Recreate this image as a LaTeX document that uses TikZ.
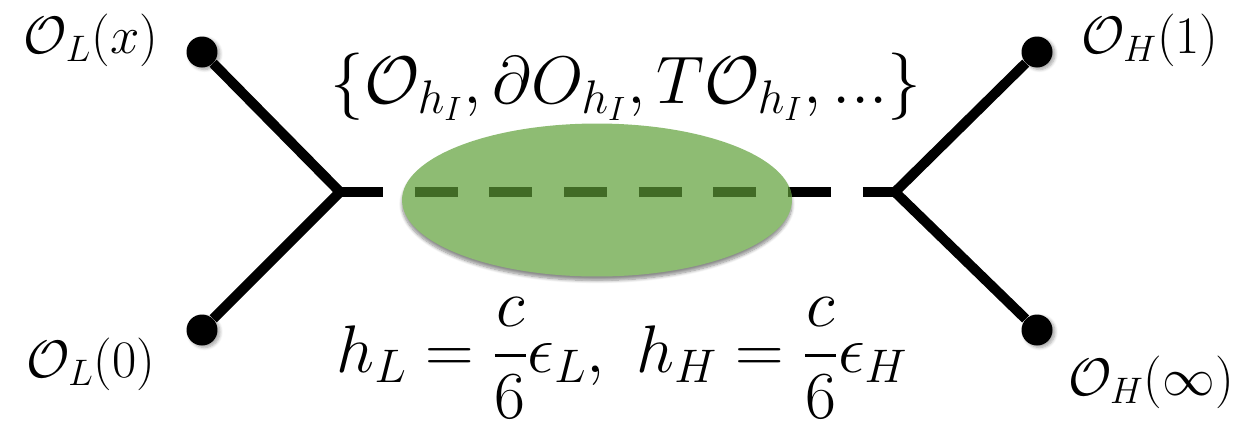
\RequirePackage{fix-cm}
\documentclass[tikz,border=0pt]{standalone}
\usepackage{amsmath,amssymb}
\usepackage{xcolor}
\usepackage{tikz}
\usetikzlibrary{shapes.geometric,shadows.blur,positioning}
\definecolor{blobgreen}{RGB}{142,188,115}
\definecolor{dashgreen}{RGB}{65,107,38}

\begin{document}
\begin{tikzpicture}[
    x=0.02cm, y=-0.02cm,
    leg/.style={line width=0.2cm},
    prop/.style={line width=0.2cm, dash pattern=on 0.86cm off 0.634cm},
    endpt/.style={circle, fill=black, minimum size=0.62cm, inner sep=0pt,
        blur shadow={shadow xshift=0.05cm, shadow yshift=-0.04cm, shadow blur steps=6, shadow opacity=35}},
    blob/.style={ellipse, fill=blobgreen, minimum width=7.8cm, minimum height=3.06cm, inner sep=0pt,
        blur shadow={shadow xshift=0cm, shadow yshift=-0.08cm, shadow blur steps=8, shadow opacity=45}},
    oplabel/.style={font=\fontsize{30}{32}\selectfont, inner sep=0pt},
    biglabel/.style={font=\fontsize{38.3}{42}\selectfont, inner sep=0pt}
]
    \useasboundingbox (0,0) rectangle (1254,437);

    % the two vertices
    \coordinate (vl) at (340,192);
    \coordinate (vr) at (895,192);

    % external operators
    \node[endpt] (oLx) at (202,52) {};
    \node[endpt] (oL0) at (202,330) {};
    \node[endpt] (oH1) at (1037,52) {};
    \node[endpt] (oHi) at (1037,330) {};

    \draw[leg] (oLx) -- (vl) -- (oL0);
    \draw[leg] (oH1) -- (vr) -- (oHi);

    % exchanged channel
    \draw[prop] (vl) -- (vr);
    \node[blob] (blob) at (597,200) {};
    \begin{scope}
        \clip (blob.center) ellipse [x radius=3.9cm, y radius=1.53cm];
        \draw[prop, dashgreen] (vl) -- (vr);
    \end{scope}

    % labels
    \node[oplabel] (lLx) at (91,40) {$\mathcal{O}_L(x)$};
    \node[oplabel] (lL0) at (91,364) {$\mathcal{O}_L(0)$};
    \node[oplabel] (lH1) at (1150,40) {$\mathcal{O}_H(1)$};
    \node[oplabel] (lHi) at (1151,382) {$\mathcal{O}_H(\infty)$};

    \node[biglabel] (ops) at (626,87) {$\{\mathcal{O}_{h_I},\partial O_{h_I},T\mathcal{O}_{h_I},...\}$};
    \node[biglabel] (dims) at (622,358) {$h_L=\dfrac{c}{6}\epsilon_L,\ h_H=\dfrac{c}{6}\epsilon_H$};
\end{tikzpicture}
\end{document}
